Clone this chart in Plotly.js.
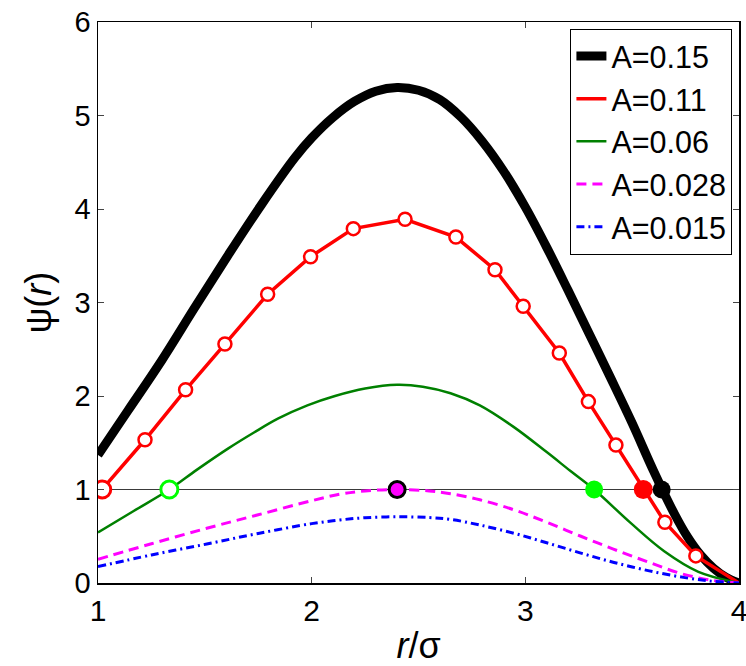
<!DOCTYPE html>
<html>
<head>
<meta charset="utf-8">
<script src="https://cdn.plot.ly/plotly-3.0.1.min.js"></script>
<style>html,body{margin:0;padding:0;background:#fff;}#chart{width:746px;height:666px;}</style>
</head>
<body>
<div id="chart"></div>
<script>
// A = 0.15 (thick black)
const blackX = [1.0, 1.142, 1.298, 1.454, 1.61, 1.766, 1.922, 2.0, 2.1, 2.2, 2.3, 2.4, 2.5, 2.6, 2.7, 2.8, 2.9, 3.0, 3.1, 3.2, 3.3, 3.4, 3.5, 3.6, 3.7, 3.76, 3.82, 3.88, 3.94, 4.0];
const blackY = [1.37, 1.85, 2.38, 2.95, 3.51, 4.05, 4.55, 4.76, 4.98, 5.15, 5.26, 5.30, 5.27, 5.17, 4.98, 4.72, 4.40, 4.02, 3.59, 3.13, 2.66, 2.19, 1.71, 1.20, 0.73, 0.49, 0.30, 0.16, 0.06, 0.0];
// A = 0.11 (red with open circles)
const redX = [1.0, 1.22, 1.41, 1.594, 1.794, 1.995, 2.195, 2.437, 2.675, 2.858, 2.99, 3.159, 3.295, 3.424, 3.653, 3.798, 4.0];
const redY = [0.95, 1.532, 2.066, 2.556, 3.088, 3.49, 3.79, 3.89, 3.70, 3.35, 2.96, 2.46, 1.94, 1.475, 0.65, 0.29, 0.0];
// A = 0.06 (green)
const greenX = [1.0, 1.167, 1.334, 1.462, 1.61, 1.73, 1.844, 1.98, 2.109, 2.25, 2.40, 2.52, 2.65, 2.787, 2.945, 3.10, 3.21, 3.322, 3.494, 3.65, 3.81, 4.0];
const greenY = [0.54, 0.77, 1.0, 1.21, 1.44, 1.61, 1.76, 1.90, 2.00, 2.08, 2.12, 2.10, 2.03, 1.90, 1.67, 1.40, 1.20, 1.0, 0.64, 0.34, 0.12, 0.0];
// A = 0.028 (magenta dashed)
const magentaX = [1.0, 1.25, 1.509, 1.75, 2.0, 2.132, 2.25, 2.40, 2.55, 2.65, 2.787, 2.95, 3.10, 3.26, 3.415, 3.58, 3.73, 3.87, 4.0];
const magentaY = [0.253, 0.42, 0.585, 0.73, 0.88, 0.95, 0.985, 1.0, 0.985, 0.955, 0.89, 0.78, 0.65, 0.50, 0.36, 0.22, 0.10, 0.03, 0.0];
// A = 0.015 (blue dash-dot)
const blueX = [1.0, 1.25, 1.509, 1.75, 2.0, 2.132, 2.25, 2.40, 2.55, 2.65, 2.787, 2.95, 3.10, 3.26, 3.415, 3.58, 3.74, 3.87, 4.0];
const blueY = [0.175, 0.30, 0.417, 0.53, 0.635, 0.674, 0.698, 0.708, 0.70, 0.68, 0.62, 0.53, 0.43, 0.32, 0.22, 0.13, 0.06, 0.02, 0.0];
// psi = 1 reference line
const refX = [1, 4];
const refY = [1, 1];
// crossing points with psi = 1
const openX = [1.02, 1.334];
const openY = [1, 1];
const filledX = [2.40, 3.322, 3.552, 3.638];
const filledY = [1, 1, 1, 1];
const legendNames = ['A=0.15', 'A=0.11', 'A=0.06', 'A=0.028', 'A=0.015'];
const xTicks = [1, 2, 3, 4];
const yTicks = [0, 1, 2, 3, 4, 5, 6];
const pad = '\u00a0\u00a0\u00a0\u00a0';

const traces = [
  {x: refX, y: refY, mode: 'lines', line: {color: '#3a3a3a', width: 1.2}, showlegend: false, hoverinfo: 'skip'},
  {x: blackX, y: blackY, name: legendNames[0], mode: 'lines', line: {color: '#000000', width: 9, shape: 'spline', smoothing: 1}},
  {x: redX, y: redY, name: legendNames[1], mode: 'lines', line: {color: '#ff0000', width: 3.5}},
  {x: redX.slice(1, -1), y: redY.slice(1, -1), mode: 'markers', showlegend: false,
   marker: {symbol: 'circle', size: 13, color: '#ffffff', opacity: 1, line: {color: '#ff0000', width: 2.5}}},
  {x: greenX, y: greenY, name: legendNames[2], mode: 'lines', line: {color: '#008000', width: 2.5, shape: 'spline'}},
  {x: magentaX, y: magentaY, name: legendNames[3], mode: 'lines', line: {color: '#ff00ff', width: 3, dash: '10px,6px', shape: 'spline'}},
  {x: blueX, y: blueY, name: legendNames[4], mode: 'lines', line: {color: '#0000ff', width: 3, dash: '8px,4px,2px,4px', shape: 'spline'}},
  {x: openX, y: openY, mode: 'markers', showlegend: false,
   marker: {symbol: 'circle', size: 17, color: '#ffffff', opacity: 1, line: {color: ['#ff0000', '#00ff00'], width: 3}}},
  {x: filledX, y: filledY, mode: 'markers', showlegend: false,
   marker: {symbol: 'circle', size: [16, 18, 19, 18], opacity: 1, color: ['#ff00ff', '#00ff00', '#ff0000', '#000000'],
            line: {color: ['#000000', '#00ff00', '#ff0000', '#000000'], width: [3, 0, 0, 0]}}}
];

const layout = {
  width: 746, height: 666,
  margin: {l: 98, r: 7, t: 22, b: 83},
  paper_bgcolor: '#ffffff', plot_bgcolor: '#ffffff',
  font: {family: 'Liberation Sans, Arial, sans-serif', color: '#000000', size: 29},
  showlegend: true,
  legend: {x: 0.737, y: 0.988, xanchor: 'left', yanchor: 'top', bgcolor: '#ffffff',
           bordercolor: '#000000', borderwidth: 1, font: {size: 30.5}, tracegroupgap: 0},
  xaxis: {range: [1, 4], tickvals: xTicks, ticks: 'inside', ticklen: 6, tickwidth: 1,
          showline: true, linecolor: '#000000', linewidth: 1.5, mirror: 'ticks', showgrid: false, zeroline: false,
          ticklabeloverflow: 'allow', tickfont: {size: 30}, title: {text: pad + '<i>r</i>/σ', font: {size: 36}, standoff: 9}},
  yaxis: {range: [0, 6], tickvals: yTicks, ticks: 'inside', ticklen: 6, tickwidth: 1,
          showline: true, linecolor: '#000000', linewidth: 1.5, mirror: 'ticks', showgrid: false, zeroline: false,
          ticklabeloverflow: 'allow', tickfont: {size: 29}, title: {text: pad + 'ψ(<i>r</i>)', font: {size: 36}, standoff: 12}}
};

Plotly.newPlot('chart', traces, layout, {displayModeBar: false, staticPlot: true});
</script>
</body>
</html>
